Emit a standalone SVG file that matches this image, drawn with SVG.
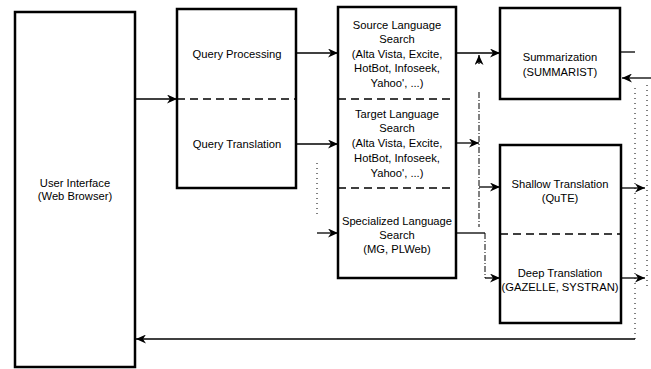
<svg xmlns="http://www.w3.org/2000/svg" width="651" height="369" viewBox="0 0 651 369">
<style>
.box{fill:#fff;stroke:#000;stroke-width:2.5}
.div{stroke:#000;stroke-width:1.6;stroke-dasharray:8,5;fill:none}
.t{font-family:"Liberation Sans",Arial,sans-serif;font-size:11.2px;fill:#000;text-anchor:middle}
.c{stroke:#000;stroke-width:1.3;fill:none}
.dd{stroke:#000;stroke-width:1;fill:none;stroke-dasharray:6,2,1,2}
.dot{stroke:#000;stroke-width:1;fill:none;stroke-dasharray:1,4}
</style>
<defs>
<marker id="ah" markerWidth="11" markerHeight="9" refX="10" refY="4.5" orient="auto" markerUnits="userSpaceOnUse">
<path d="M0,0 L10,4.5 L0,9 L3,4.5 Z" fill="#000"/>
</marker>
</defs>
<rect width="651" height="369" fill="#fff"/>
<g id="ui">
<rect class="box" x="15" y="12" width="120" height="355"/>
<text class="t" x="75" y="187">User Interface</text>
<text class="t" x="75" y="200">(Web Browser)</text>
</g>
<g id="query">
<rect class="box" x="177" y="9" width="119" height="179"/>
<line class="div" x1="177" y1="99" x2="296" y2="99"/>
<text class="t" x="237" y="58">Query Processing</text>
<text class="t" x="237" y="148">Query Translation</text>
</g>
<g id="search">
<rect class="box" x="338" y="7" width="118" height="271"/>
<line class="div" x1="338" y1="99" x2="456" y2="99"/>
<line class="div" x1="338" y1="188" x2="456" y2="188"/>
<text class="t" x="397" y="29">Source Language</text>
<text class="t" x="397" y="43">Search</text>
<text class="t" x="397" y="58">(Alta Vista, Excite,</text>
<text class="t" x="397" y="72">HotBot, Infoseek,</text>
<text class="t" x="397" y="87">Yahoo', ...)</text>
<text class="t" x="397" y="118">Target Language</text>
<text class="t" x="397" y="132">Search</text>
<text class="t" x="397" y="147">(Alta Vista, Excite,</text>
<text class="t" x="397" y="162">HotBot, Infoseek,</text>
<text class="t" x="397" y="177">Yahoo', ...)</text>
<text class="t" x="397" y="225">Specialized Language</text>
<text class="t" x="397" y="239">Search</text>
<text class="t" x="397" y="253">(MG, PLWeb)</text>
</g>
<g id="summ">
<rect class="box" x="500" y="8" width="120" height="91"/>
<text class="t" x="560" y="61">Summarization</text>
<text class="t" x="560" y="76">(SUMMARIST)</text>
</g>
<g id="trans">
<rect class="box" x="500" y="145" width="121" height="178"/>
<line class="div" x1="500" y1="234" x2="621" y2="234"/>
<text class="t" x="560" y="188">Shallow Translation</text>
<text class="t" x="560" y="202">(QuTE)</text>
<text class="t" x="560" y="277">Deep Translation</text>
<text class="t" x="560" y="291">(GAZELLE, SYSTRAN)</text>
</g>
<g id="connectors">
<line class="c" x1="135" y1="99" x2="177" y2="99" marker-end="url(#ah)"/>
<line class="c" x1="296" y1="53" x2="338" y2="53" marker-end="url(#ah)"/>
<line class="c" x1="296" y1="144" x2="338" y2="144" marker-end="url(#ah)"/>
<line class="dot" x1="317" y1="163" x2="317" y2="216"/>
<line class="c" x1="317" y1="233" x2="338" y2="233" marker-end="url(#ah)"/>
<line class="c" x1="456" y1="53" x2="500" y2="53" marker-end="url(#ah)"/>
<line class="c" x1="479" y1="64" x2="479" y2="55" marker-end="url(#ah)"/>
<line class="dd" x1="479" y1="92" x2="479" y2="227"/>
<line class="c" x1="456" y1="143" x2="479" y2="143" marker-end="url(#ah)"/>
<line class="c" x1="479" y1="187" x2="500" y2="187" marker-end="url(#ah)"/>
<polyline class="c" points="456,233 485,233"/>
<line class="dd" x1="485" y1="233" x2="485" y2="278"/>
<line class="c" x1="485" y1="278" x2="500" y2="278" marker-end="url(#ah)"/>
<line class="c" x1="620" y1="52" x2="635" y2="52"/>
<line class="c" x1="651" y1="78" x2="622" y2="78" marker-end="url(#ah)"/>
<line class="c" x1="621" y1="188" x2="645" y2="188" marker-end="url(#ah)"/>
<line class="c" x1="621" y1="278" x2="645" y2="278" marker-end="url(#ah)"/>
<line class="dot" x1="635" y1="88" x2="635" y2="339"/>
<line class="dot" x1="647" y1="85" x2="647" y2="290"/>
<line class="c" x1="635" y1="339" x2="136" y2="339" marker-end="url(#ah)"/>
</g>
</svg>
